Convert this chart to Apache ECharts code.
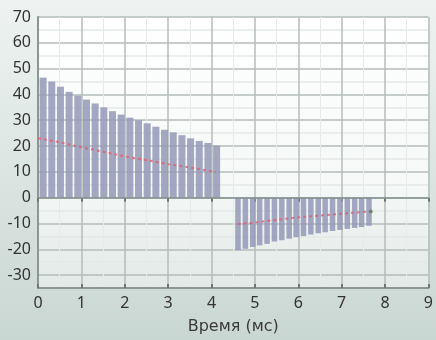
<!DOCTYPE html>
<html>
<head>
<meta charset="utf-8">
<script src="https://cdn.jsdelivr.net/npm/echarts@6/dist/echarts.min.js"></script>
<style>
html,body{margin:0;padding:0;}
#c{width:436px;height:340px;}
</style>
</head>
<body>
<div id="c"></div>
<script>
// ---- data ----
var posX = [0.1,0.3,0.5,0.7,0.9,1.1,1.3,1.5,1.7,1.9,2.1,2.3,2.5,2.7,2.9,3.1,3.3,3.5,3.7,3.9,4.1];
var posVals = [46.5,45,43,41,39.5,38,36.5,35,33.5,32.2,31,30,28.8,27.5,26.3,25.3,24.2,23,22,21.2,20.2];
var negX = [4.61,4.78,4.95,5.11,5.28,5.45,5.62,5.79,5.95,6.12,6.29,6.46,6.62,6.79,6.96,7.13,7.30,7.46,7.63];
var negVals = [-20.3,-19.8,-19.1,-18.5,-17.9,-17.0,-16.5,-15.9,-15.3,-14.9,-14.3,-13.8,-13.4,-12.9,-12.5,-12.1,-11.7,-11.4,-10.9];
var redPosX = [0,0.5,1,1.5,2,2.5,3,3.5,4.1];
var redPosVals = [23,21.5,19.5,17.8,16,14.5,13,11.7,10];
var redNegX = [4.6,5,5.5,6,6.5,7,7.6];
var redNegVals = [-10.2,-9.6,-8.6,-7.6,-6.9,-6.2,-5.4];
var endDot = [[7.67,-5.4]];
var xTicks = [0,1,2,3,4,5,6,7,8,9];
var yTickLabels = [-30,-20,-10,0,10,20,30,40,50,60,70];
var xTitle = 'Время (мс)';

function pairs(xs, ys){ return xs.map(function(x,i){ return [x, ys[i]]; }); }

var FONT = 'Noto Sans';
var BAR = 'rgba(148,152,182,0.85)';
var RED = 'rgba(226,92,112,0.8)';
var chart = echarts.init(document.getElementById('c'), null, {renderer:'canvas'});
chart.setOption({
  animation:false,
  backgroundColor: new echarts.graphic.LinearGradient(0,0,0,1,[
    {offset:0,color:'#eef3f1'},{offset:1,color:'#c9d7d3'}]),
  grid:{left:38,right:4,top:17,bottom:49,show:true,borderWidth:0,
    backgroundColor: new echarts.graphic.LinearGradient(0,0,0,1,[
      {offset:0,color:'#ffffff'},{offset:0.6,color:'#f6f9f8'},{offset:1,color:'#e2e9e7'}])},
  xAxis:[{
    type:'value',min:0,max:9,interval:1,
    name:xTitle,nameLocation:'middle',nameGap:31,
    nameTextStyle:{fontFamily:'DejaVu Sans',fontSize:16,color:'#3a3a3a'},
    axisLine:{show:true,onZero:false,lineStyle:{color:'#8c9692',width:2}},
    axisTick:{show:true,inside:true,length:4,lineStyle:{color:'#6f7874',width:2}},
    axisLabel:{fontFamily:FONT,fontSize:16,color:'#333',margin:7,
      formatter:function(v){ return xTicks.indexOf(v)>=0 ? String(v) : ''; }},
    splitLine:{show:true,lineStyle:{color:'#b4bcb9',width:1.5}},
    minorTick:{show:false,splitNumber:2},
    minorSplitLine:{show:true,lineStyle:{color:'#e6ebe9',width:1}}
  },{
    type:'value',min:0,max:9,interval:1,position:'top',
    axisLine:{show:false},axisLabel:{show:false},splitLine:{show:false},
    axisTick:{show:true,inside:true,length:4,lineStyle:{color:'#6f7874',width:2}}
  }],
  yAxis:{
    type:'value',min:-35,max:70,interval:5,
    axisLine:{show:true,lineStyle:{color:'#8c9692',width:2}},
    axisTick:{show:false},
    axisLabel:{fontFamily:FONT,fontSize:16,color:'#333',margin:7,padding:[0,0,8,0],
      formatter:function(v){ return yTickLabels.indexOf(v)>=0 ? String(v) : ''; }},
    splitLine:{show:true,lineStyle:{color:['#e3e8e6','#b4bcb9'],width:1.5}}
  },
  series:[
    {type:'bar',data:pairs(posX,posVals),barWidth:7,barGap:'-100%',
     itemStyle:{color:BAR},
     markLine:{silent:true,symbol:'none',label:{show:false},
       lineStyle:{color:'#858f8b',width:1.5,type:'solid'},data:[{yAxis:0}]}},
    {type:'bar',data:pairs(negX,negVals),barWidth:5.5,barGap:'-100%',
     itemStyle:{color:BAR}},
    {type:'line',data:pairs(redPosX,redPosVals),showSymbol:false,smooth:false,
     lineStyle:{color:RED,width:2,type:[3,3]}},
    {type:'line',data:pairs(redNegX,redNegVals),showSymbol:false,smooth:false,
     lineStyle:{color:RED,width:2,type:[3,3]}},
    {type:'scatter',data:endDot,symbolSize:4,itemStyle:{color:'#66755f'}}
  ]
});
</script>
</body>
</html>
